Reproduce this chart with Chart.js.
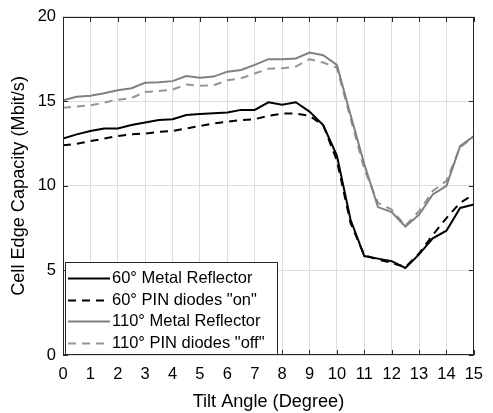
<!DOCTYPE html>
<html>
<head>
<meta charset="utf-8">
<script src="https://cdn.jsdelivr.net/npm/chart.js@4/dist/chart.umd.min.js"></script>
<style>
  html, body { margin: 0; padding: 0; background: #fff; }
  #wrap { width: 493px; height: 413px; position: relative; }
</style>
</head>
<body>
<div id="wrap"><canvas id="capacityChart"></canvas></div>
<script>
// tilt angles in degree (x)
const tiltAngles = [0, 0.5, 1, 1.5, 2, 2.5, 3, 3.5, 4, 4.5, 5, 5.5, 6, 6.5, 7, 7.5,
  8, 8.5, 9, 9.5, 10, 10.5, 11, 11.5, 12, 12.5, 13, 13.5, 14, 14.5, 15];

// cell edge capacity in Mbit/s
const metal60 = [12.8, 13.05, 13.25, 13.4, 13.4, 13.6, 13.75, 13.9, 13.95, 14.2, 14.25, 14.3, 14.35, 14.5, 14.5, 14.95,
  14.8, 14.95, 14.4, 13.6, 11.8, 8.0, 5.85, 5.7, 5.55, 5.15, 5.95, 6.9, 7.35, 8.7, 8.9];
const pinOn60 = [12.4, 12.5, 12.65, 12.8, 12.95, 13.05, 13.1, 13.2, 13.25, 13.4, 13.55, 13.7, 13.8, 13.9, 13.95, 14.15,
  14.28, 14.28, 14.15, 13.6, 11.5, 7.8, 5.9, 5.65, 5.45, 5.2, 6.0, 7.1, 8.1, 9.0, 9.5];
const metal110 = [15.07, 15.27, 15.33, 15.48, 15.66, 15.78, 16.1, 16.13, 16.2, 16.5, 16.4, 16.47, 16.76, 16.86, 17.16, 17.5,
  17.5, 17.54, 17.89, 17.73, 17.16, 14.2, 11.3, 8.75, 8.45, 7.6, 8.3, 9.5, 10.0, 12.35, 12.95];
const pinOff110 = [14.63, 14.7, 14.77, 14.93, 15.1, 15.2, 15.56, 15.62, 15.7, 16.0, 15.92, 15.95, 16.25, 16.37, 16.65, 16.94,
  16.96, 17.06, 17.5, 17.3, 17.0, 14.0, 11.0, 9.0, 8.6, 7.65, 8.5, 9.7, 10.3, 12.3, 12.9];

const seriesLabels = ['60° Metal Reflector', '60° PIN diodes "on"', '110° Metal Reflector', '110° PIN diodes "off"'];
const xTicks = [0, 1, 2, 3, 4, 5, 6, 7, 8, 9, 10, 11, 12, 13, 14, 15];
const yTicks = [0, 5, 10, 15, 20];

const FONT = 'Liberation Sans, Arial, Helvetica, sans-serif';
const FONT_SIZE = 16.5;
const TITLE_SIZE = 18.15; // axis labels are 1.1x the tick font
const AXIS_COLOR = '#262626';

function toPoints(values) {
  return tiltAngles.map((x, i) => ({ x: x, y: values[i] }));
}

// box round the axes and the small inward ticks, like matlab draws them
const axesBox = {
  id: 'axesBox',
  afterDatasetsDraw(chart) {
    const { ctx, chartArea, scales } = chart;
    const { left, right, top, bottom } = chartArea;
    ctx.save();
    ctx.strokeStyle = AXIS_COLOR;
    ctx.lineWidth = 1;
    ctx.beginPath();
    ctx.rect(Math.round(left) + 0.5, Math.round(top) + 0.5,
      Math.round(right - left) - 1, Math.round(bottom - top) - 1);
    xTicks.forEach(v => {
      const px = Math.round(scales.x.getPixelForValue(v)) + 0.5;
      ctx.moveTo(px, bottom); ctx.lineTo(px, bottom - 5);
      ctx.moveTo(px, top); ctx.lineTo(px, top + 5);
    });
    yTicks.forEach(v => {
      const py = Math.round(scales.y.getPixelForValue(v)) + 0.5;
      ctx.moveTo(left, py); ctx.lineTo(left + 5, py);
      ctx.moveTo(right, py); ctx.lineTo(right - 5, py);
    });
    ctx.stroke();
    ctx.restore();
  }
};

// legend box in the lower left corner of the plot
const boxLegend = {
  id: 'boxLegend',
  afterDraw(chart) {
    const { ctx, chartArea } = chart;
    const x0 = Math.round(chartArea.left) + 2;
    const y1 = Math.round(chartArea.bottom);
    const w = 213, h = 93;
    ctx.save();
    ctx.fillStyle = '#fff';
    ctx.fillRect(x0, y1 - h, w, h);
    ctx.strokeStyle = AXIS_COLOR;
    ctx.lineWidth = 1;
    ctx.strokeRect(x0 + 0.5, y1 - h + 0.5, w - 1, h - 1);
    const rows = [77, 55.5, 34, 12.5];
    chart.data.datasets.forEach((ds, i) => {
      const y = Math.round(y1 - rows[i]) + 0.5;
      ctx.beginPath();
      ctx.strokeStyle = ds.borderColor;
      ctx.lineWidth = ds.borderWidth;
      ctx.setLineDash(ds.borderDash || []);
      ctx.moveTo(x0 + 3, y);
      ctx.lineTo(x0 + 45, y);
      ctx.stroke();
      ctx.setLineDash([]);
      ctx.fillStyle = '#000';
      ctx.font = FONT_SIZE + 'px ' + FONT;
      ctx.textBaseline = 'middle';
      ctx.textAlign = 'left';
      ctx.fillText(ds.label, x0 + 47, y);
    });
    ctx.restore();
  }
};

const ctx = document.getElementById('capacityChart').getContext('2d');
new Chart(ctx, {
  type: 'line',
  data: {
    datasets: [
      { label: seriesLabels[0], data: toPoints(metal60), borderColor: '#000000', borderWidth: 2 },
      { label: seriesLabels[1], data: toPoints(pinOn60), borderColor: '#000000', borderWidth: 2, borderDash: [8, 6] },
      { label: seriesLabels[2], data: toPoints(metal110), borderColor: '#808080', borderWidth: 2 },
      { label: seriesLabels[3], data: toPoints(pinOff110), borderColor: '#959595', borderWidth: 2, borderDash: [8, 6] }
    ]
  },
  options: {
    responsive: true,
    maintainAspectRatio: false,
    animation: false,
    events: [],
    elements: { point: { radius: 0 }, line: { tension: 0 } },
    layout: { padding: { top: 16, right: 17, left: 0, bottom: 0 } },
    plugins: { legend: { display: false }, tooltip: { enabled: false } },
    scales: {
      x: {
        type: 'linear',
        min: 0,
        max: 15,
        afterBuildTicks: scale => { scale.ticks = xTicks.map(v => ({ value: v })); },
        afterFit: scale => { scale.height = 58; },
        grid: { color: '#dedede', drawTicks: false },
        border: { display: false },
        ticks: { color: '#000', padding: 10, maxRotation: 0, font: { family: FONT, size: FONT_SIZE } },
        title: {
          display: true, text: 'Tilt Angle (Degree)', color: '#000',
          font: { family: FONT, size: TITLE_SIZE }, padding: { top: 0, bottom: 0.5 }
        }
      },
      y: {
        min: 0,
        max: 20,
        afterBuildTicks: scale => { scale.ticks = yTicks.map(v => ({ value: v })); },
        afterFit: scale => { scale.width = 63; },
        grid: { color: '#dedede', drawTicks: false },
        border: { display: false },
        ticks: { color: '#000', padding: 7, font: { family: FONT, size: FONT_SIZE } },
        title: {
          display: true, text: 'Cell Edge Capacity (Mbit/s)', color: '#000',
          font: { family: FONT, size: TITLE_SIZE }, padding: { top: 8.5, bottom: 0 }
        }
      }
    }
  },
  plugins: [axesBox, boxLegend]
});
</script>
</body>
</html>
